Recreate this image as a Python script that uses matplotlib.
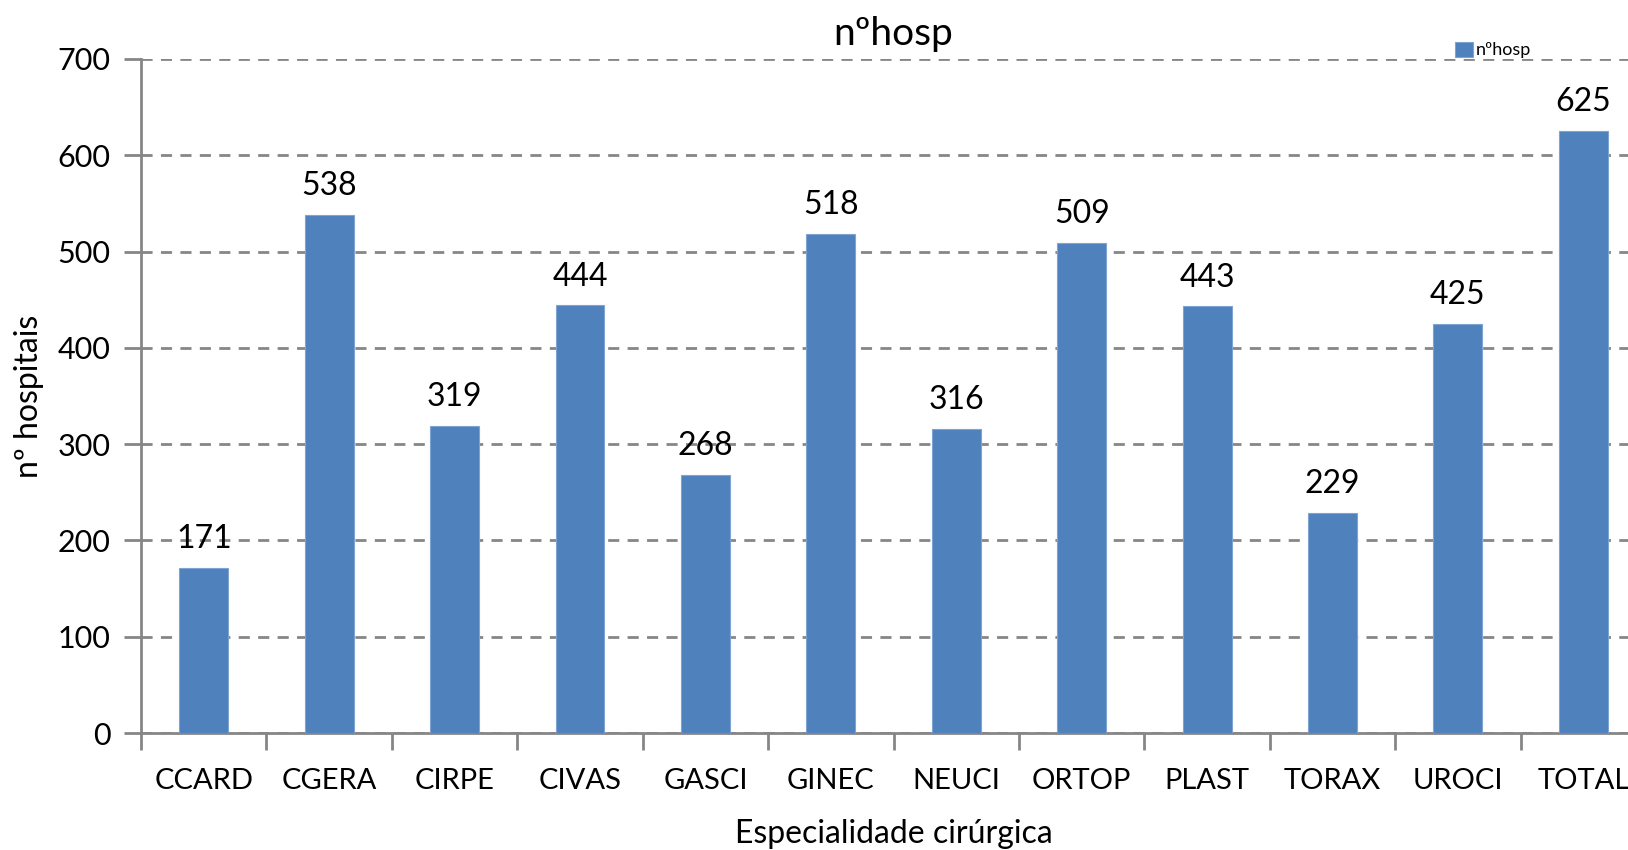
import matplotlib.pyplot as plt
import numpy as np

plt.rcParams['font.family'] = ['Lato', 'DejaVu Sans']

categorias = ["CCARD", "CGERA", "CIRPE", "CIVAS", "GASCI", "GINEC",
              "NEUCI", "ORTOP", "PLAST", "TORAX", "UROCI", "TOTAL"]
nhosp = [171, 538, 319, 444, 268, 518, 316, 509, 443, 229, 425, 625]

fig = plt.figure(figsize=(16.28, 8.5), dpi=100)
ax = fig.add_axes([0.0866, 0.1376, 0.9245, 0.793])

x = np.arange(len(categorias))
bars = ax.bar(x, nhosp, width=0.39, color="#4F81BD", edgecolor="#7FA3D3",
              linewidth=0.8, label="nºhosp", zorder=3)

for xi, v in zip(x, nhosp):
    ax.annotate(str(v), (xi, v), xytext=(0, 10), textcoords="offset points",
                ha="center", va="bottom", fontsize=23)

ax.set_xlim(-0.5, len(categorias) - 0.5)
ax.set_ylim(0, 700)
ax.set_yticks(range(0, 701, 100))
ax.set_xticks(x)
ax.set_xticklabels(categorias)
ax.set_xticks(np.arange(-0.5, len(categorias), 1), minor=True)
ax.tick_params(axis="x", which="major", length=0, pad=25, labelsize=21)
ax.tick_params(axis="x", which="minor", length=12, width=2, color="#868686")
ax.tick_params(axis="y", length=12, width=2, color="#868686", labelsize=22, pad=10)

ax.grid(axis="y", linestyle=(0, (4, 3)), color="#868686", linewidth=2, zorder=0)
for s in ["top", "right"]:
    ax.spines[s].set_visible(False)
for s in ["left", "bottom"]:
    ax.spines[s].set_color("#868686")
    ax.spines[s].set_linewidth(2)

ax.set_title("nºhosp", fontsize=28, pad=10)
ax.set_ylabel("nº hospitais", fontsize=23, labelpad=10)
ax.set_xlabel("Especialidade cirúrgica", fontsize=23, labelpad=18)

ax.legend(loc="upper left", bbox_to_anchor=(0.862, 1.05), frameon=False,
          fontsize=13, handlelength=1.0, handleheight=0.9, handletextpad=0.15)

fig.savefig("out.png", dpi=100)
